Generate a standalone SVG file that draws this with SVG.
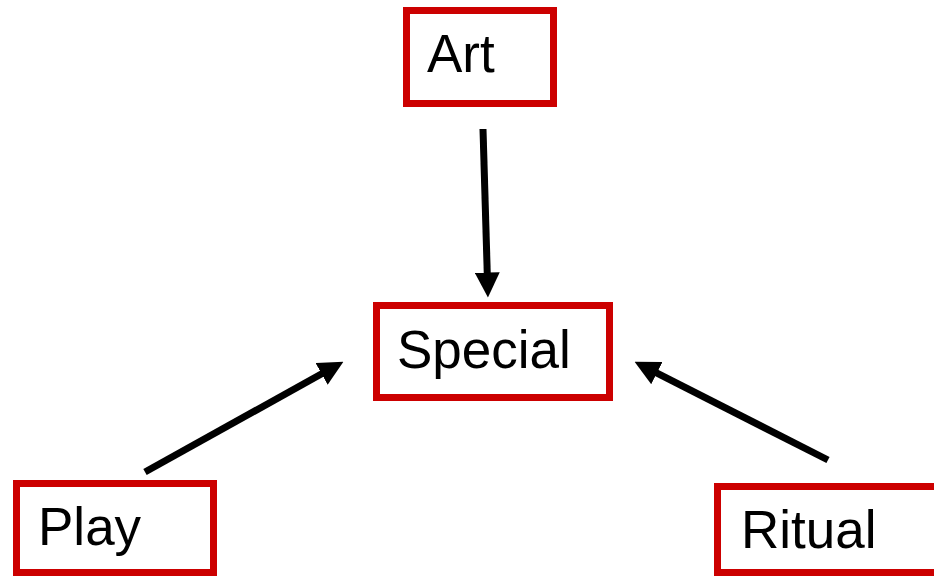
<svg xmlns="http://www.w3.org/2000/svg" width="934" height="577" viewBox="0 0 934 577">
  <defs>
    <style>
      .box { fill: #ffffff; stroke: #CC0000; stroke-width: 7; }
      .lbl { font-family: "Liberation Sans", Arial, sans-serif; font-size: 53px; fill: #000000; }
      .conn { stroke: #000000; stroke-width: 7; fill: none; marker-end: url(#arrow); }
    </style>
    <marker id="arrow" viewBox="0 0 24 24" markerUnits="userSpaceOnUse" markerWidth="25" markerHeight="25" refX="12" refY="12" orient="auto">
      <path d="M0,0 L24,12 L0,24 z" fill="#000000"/>
    </marker>
  </defs>
  <rect width="934" height="577" fill="#ffffff"/>
  <g id="node-art">
    <rect class="box" x="406.5" y="10.5" width="147" height="93"/>
    <text class="lbl" x="427" y="72">Art</text>
  </g>
  <g id="node-special">
    <rect class="box" x="376.5" y="305.5" width="233" height="92"/>
    <text class="lbl" x="397" y="368">Special</text>
  </g>
  <g id="node-play">
    <rect class="box" x="16.5" y="483.5" width="197" height="89"/>
    <text class="lbl" x="38" y="545">Play</text>
  </g>
  <g id="node-ritual">
    <rect class="box" x="717.5" y="486.5" width="230" height="86"/>
    <text class="lbl" x="741" y="548">Ritual</text>
  </g>
  <g id="connectors">
    <line class="conn" x1="483" y1="129" x2="487.6" y2="285"/>
    <line class="conn" x1="145" y1="472" x2="332.5" y2="367.8"/>
    <line class="conn" x1="828" y1="460" x2="645.7" y2="367.4"/>
  </g>
</svg>
